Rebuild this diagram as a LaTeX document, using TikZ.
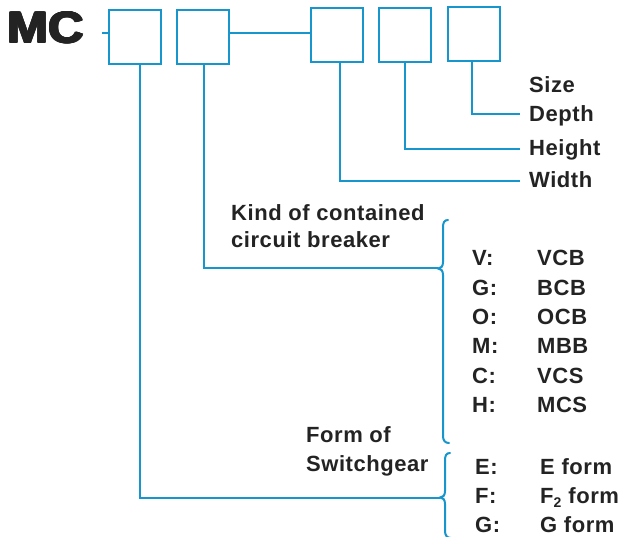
\documentclass[tikz,border=0pt]{standalone}
\usepackage{fontspec}
\setmainfont{Liberation Sans}
\newfontfamily\labfont[LetterSpace=2.5]{Liberation Sans}
\usetikzlibrary{calc}
\definecolor{cy}{RGB}{22,150,205}
\definecolor{tx}{RGB}{35,35,35}
\tikzset{
  lab/.style={anchor=base west, inner sep=0pt, font=\labfont\fontsize{22}{26}\selectfont\bfseries, text=tx},
  box/.style={draw=cy, line width=2pt, minimum width=52pt, minimum height=54pt, inner sep=0pt},
  conn/.style={draw=cy, line width=2pt},
}
\begin{document}
\begin{tikzpicture}[x=1pt,y=-1pt]
\useasboundingbox (0,0) rectangle (629,537);
% MC title
\foreach \dx in {0,0.5,1,1.5}{
  \foreach \dy in {0,0.5,1}{
    \node[anchor=base west, inner sep=0pt, text=tx] at (6.5+\dx,42.5+\dy)
      {\scalebox{1.17}[1.05]{\fontsize{42}{44}\selectfont\bfseries MC}};
  }
}
\node[anchor=base west, inner sep=0pt, text=tx] (mc) at (7,43)
  {\scalebox{1.17}[1.05]{\fontsize{42}{44}\selectfont\bfseries MC}};
% boxes
\node[box] (b1) at (135,37.5) {};
\node[box] (b2) at (202.5,37) {};
\node[box] (b3) at (337,35.5) {};
\node[box] (b4) at (404.5,35) {};
\node[box] (b5) at (474,34.5) {};
% top connectors
\coordinate (mcend) at (102,33);
\draw[conn] (mcend) -- (b1.west |- mcend);
\draw[conn] (b2.east |- mcend) -- (b3.west |- mcend);
% right labels
\node[lab] (size) at (529,93) {Size};
\node[lab] (depth) at (529,122) {Depth};
\node[lab] (height) at (529,156) {Height};
\node[lab] (width) at (529,188) {Width};
\coordinate (dE) at (520,114);
\coordinate (hE) at (520,149);
\coordinate (wE) at (520,181);
\draw[conn] (b5.south -| 472,0) |- (dE);
\draw[conn] (b4.south -| 405,0) |- (hE);
\draw[conn] (b3.south -| 340,0) |- (wE);
% kind of contained circuit breaker
\node[lab] (kind1) at (231,221) {Kind of contained};
\node[lab] (kind2) at (231,248) {circuit breaker};
\coordinate (tip1) at (438,268.5);
\draw[conn] (b2.south -| 204,0) |- (tip1);
\draw[conn, line cap=round] (448,220) .. controls (444.5,220) and (443,222.5) .. (443,227)
  -- (443,262) .. controls (443,266.5) and (441,268.5) .. (tip1)
  .. controls (441,268.5) and (443,270.5) .. (443,275)
  -- (443,436) .. controls (443,440.5) and (445,443) .. (449,443);
\foreach \y/\k/\v in {266/V/VCB,295/G/BCB,324/O/OCB,353/M/MBB,383/C/VCS,412/H/MCS}{
  \node[lab] (k\k) at (472,\y) {\k:};
  \node[lab] (v\k) at (537,\y) {\v};
}
% form of switchgear
\node[lab] (form1) at (306,442) {Form of};
\node[lab] (form2) at (306,471) {Switchgear};
\coordinate (tip2) at (440,497.5);
\draw[conn] (b1.south -| 140,0) |- (tip2);
\draw[conn, line cap=round] (450,453) .. controls (446.5,453) and (445,455.5) .. (445,460)
  -- (445,491) .. controls (445,495.5) and (443,497.5) .. (tip2)
  .. controls (443,497.5) and (445,499.5) .. (445,504)
  -- (445,531) .. controls (445,535.5) and (447,538) .. (451,538);
\node[lab] (fe) at (475,474) {E:};
\node[lab] (fef) at (540,474) {E form};
\node[lab] (ff) at (475,503) {F:};
\node[lab] (fff) at (540,503) {F\raisebox{-0.35ex}{\fontsize{14}{14}\selectfont 2}\hspace{7pt}form};
\node[lab] (fg) at (475,532) {G:};
\node[lab] (fgf) at (540,532) {G form};
\end{tikzpicture}
\end{document}
